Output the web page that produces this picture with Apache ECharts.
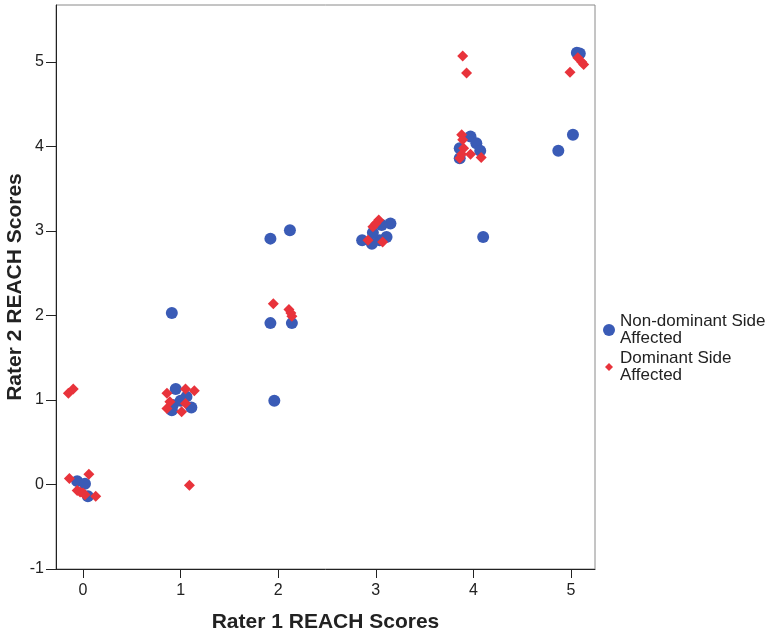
<!DOCTYPE html>
<html>
<head>
<meta charset="utf-8">
<script src="https://cdn.jsdelivr.net/npm/echarts@6/dist/echarts.min.js"></script>
<style>
html,body{margin:0;padding:0;background:#fff;}
#chart{width:768px;height:634px;}
</style>
</head>
<body>
<div id="chart"></div>
<script>
// Tick labels
const xTicks = [0, 1, 2, 3, 4, 5];
const yTicks = [-1, 0, 1, 2, 3, 4, 5];

// Non-dominant Side Affected: [Rater 1, Rater 2] (jittered as in the picture)
const nonDominantX = [-0.06, 0.02, 0.05, 0.95, 1.06, 0.92, 0.91, 1.11, 1.00, 0.91,
  1.92, 2.12, 1.92, 2.14, 1.96, 2.86, 2.96, 3.04, 3.11, 3.15, 3.06, 2.97,
  3.97, 4.03, 4.07, 3.86, 3.86, 4.10, 4.87, 5.02, 5.06, 5.09];
const nonDominantY = [0.04, 0.01, -0.14, 1.13, 1.04, 0.94, 0.88, 0.91, 0.99, 2.03,
  2.91, 3.01, 1.91, 1.91, 0.99, 2.89, 2.85, 2.89, 2.93, 3.09, 3.07, 2.98,
  4.12, 4.04, 3.95, 3.98, 3.86, 2.93, 3.95, 4.14, 5.11, 5.10];

// Dominant Side Affected
const dominantX = [-0.15, -0.10, -0.14, 0.06, -0.03, 0.02, 0.13, -0.06, 0.00,
  0.86, 1.05, 1.14, 0.89, 0.86, 1.05, 1.01, 1.09,
  1.95, 2.11, 2.14, 2.13,
  2.92, 3.07, 2.97, 3.03, 3.00,
  3.89, 3.93, 3.88, 3.89, 3.90, 3.86, 3.97, 4.08, 3.88,
  4.99, 5.07, 5.11, 5.13];
const dominantY = [1.08, 1.13, 0.07, 0.12, -0.09, -0.12, -0.14, -0.07, -0.10,
  1.08, 1.13, 1.11, 0.98, 0.90, 0.96, 0.86, -0.01,
  2.14, 2.07, 1.99, 2.03,
  2.89, 2.87, 3.05, 3.13, 3.09,
  5.07, 4.87, 4.14, 4.08, 3.98, 3.86, 3.91, 3.87, 3.91,
  4.88, 5.05, 5.00, 4.97];

const seriesNames = ['Non-dominant Side\nAffected', 'Dominant Side\nAffected'];
const pair = (xs, ys) => xs.map((x, i) => [x, ys[i]]);

const chart = echarts.init(document.getElementById('chart'));
const font = 'Liberation Sans, Arial, sans-serif';
chart.setOption({
  animation: false,
  backgroundColor: '#fff',
  textStyle: { fontFamily: font },
  grid: { left: 56, right: 173, top: 5, bottom: 65, show: true, borderColor: '#8a8a8a', borderWidth: 1,
          containLabel: false, outerBoundsMode: 'none' },
  legend: {
    orient: 'vertical', left: 598, top: 308, itemGap: 3,
    itemWidth: 12, itemHeight: 12,
    textStyle: { fontSize: 17, lineHeight: 17, color: '#222', fontFamily: font },
    data: [
      { name: seriesNames[0], icon: 'circle' },
      { name: seriesNames[1], icon: 'path://M0,0L0,0M12,12L12,12M6,2L10,6L6,10L2,6Z' }
    ]
  },
  xAxis: {
    type: 'value', min: -0.277, max: 5.246,
    name: 'Rater 1 REACH Scores', nameLocation: 'middle', nameGap: 43,
    nameTextStyle: { fontSize: 21, fontWeight: 'bold', color: '#222', fontFamily: font },
    axisLine: { show: true, onZero: false, lineStyle: { color: '#222', width: 1 } },
    axisTick: { show: true, length: 9, lineStyle: { color: '#222' }, customValues: xTicks },
    axisLabel: { fontSize: 16, color: '#222', margin: 14, customValues: xTicks },
    splitLine: { show: false }
  },
  yAxis: {
    type: 'value', min: -1, max: 5.675,
    name: 'Rater 2 REACH Scores', nameLocation: 'middle', nameGap: 30, nameMoveOverlap: false,
    nameTextStyle: { fontSize: 21, fontWeight: 'bold', color: '#222', fontFamily: font },
    axisLine: { show: true, onZero: false, lineStyle: { color: '#222', width: 1 } },
    axisTick: { show: true, length: 10, lineStyle: { color: '#222' }, customValues: yTicks },
    axisLabel: { fontSize: 16, color: '#222', margin: 12, customValues: yTicks },
    splitLine: { show: false }
  },
  series: [
    {
      name: seriesNames[0], type: 'scatter', symbol: 'circle', symbolSize: 12,
      itemStyle: { color: '#3a5bb6', opacity: 1 },
      data: pair(nonDominantX, nonDominantY)
    },
    {
      name: seriesNames[1], type: 'scatter', symbol: 'diamond', symbolSize: 11,
      itemStyle: { color: '#e8333b', opacity: 1 },
      data: pair(dominantX, dominantY)
    }
  ]
});
</script>
</body>
</html>
